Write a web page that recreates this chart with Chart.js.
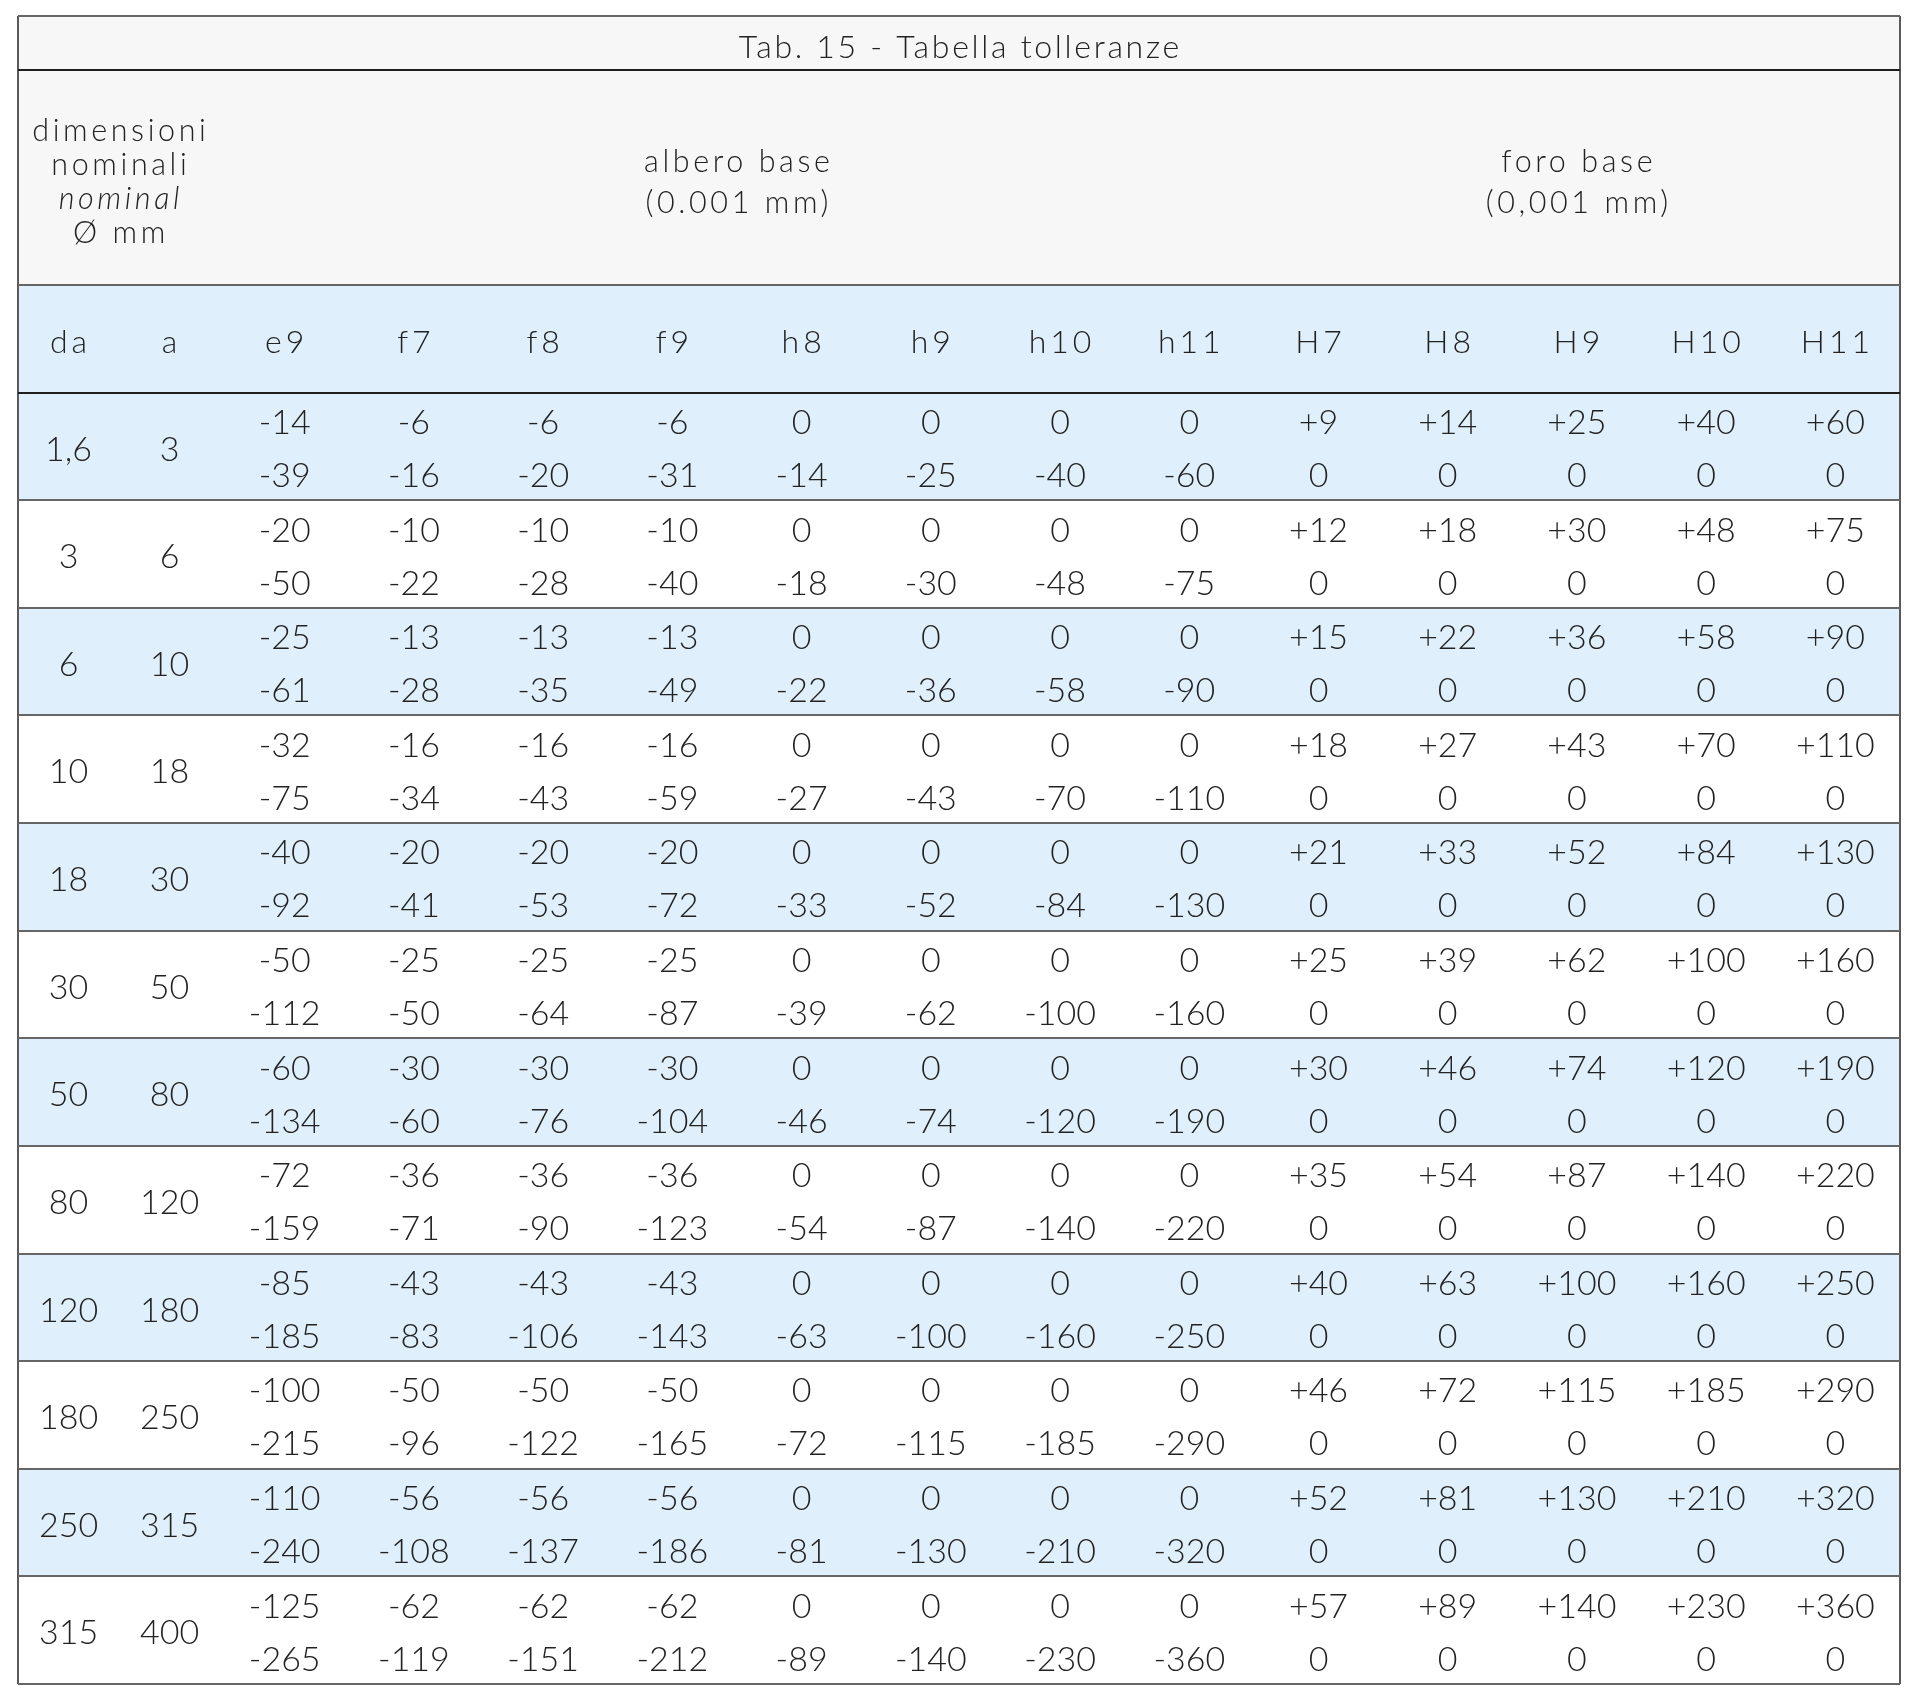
<!DOCTYPE html>
<html><head><meta charset="utf-8">
<script src="https://cdn.jsdelivr.net/npm/chart.js@4.4.1/dist/chart.umd.min.js"></script>
<style>html,body{margin:0;padding:0;background:#fff}#wrap{width:1920px;height:1704px;position:relative}</style>
</head><body><div id="wrap"><canvas id="c"></canvas></div>
<script>
// ---------- data ----------
const title = 'Tab. 15 - Tabella tolleranze';
const headerSizeLines = ['dimensioni', 'nominali', 'nominal', 'Ø mm'];
const headerShaftLines = ['albero base', '(0.001 mm)'];
const headerHoleLines = ['foro base', '(0,001 mm)'];
const colLabels = ['da', 'a', 'e9', 'f7', 'f8', 'f9', 'h8', 'h9', 'h10', 'h11', 'H7', 'H8', 'H9', 'H10', 'H11'];
const sizeFrom = ['1,6', '3', '6', '10', '18', '30', '50', '80', '120', '180', '250', '315'];
const sizeTo = ['3', '6', '10', '18', '30', '50', '80', '120', '180', '250', '315', '400'];
// columns: e9 f7 f8 f9 h8 h9 h10 h11 H7 H8 H9 H10 H11
const upperDeviation = [
  [-14, -6, -6, -6, 0, 0, 0, 0, 9, 14, 25, 40, 60],
  [-20, -10, -10, -10, 0, 0, 0, 0, 12, 18, 30, 48, 75],
  [-25, -13, -13, -13, 0, 0, 0, 0, 15, 22, 36, 58, 90],
  [-32, -16, -16, -16, 0, 0, 0, 0, 18, 27, 43, 70, 110],
  [-40, -20, -20, -20, 0, 0, 0, 0, 21, 33, 52, 84, 130],
  [-50, -25, -25, -25, 0, 0, 0, 0, 25, 39, 62, 100, 160],
  [-60, -30, -30, -30, 0, 0, 0, 0, 30, 46, 74, 120, 190],
  [-72, -36, -36, -36, 0, 0, 0, 0, 35, 54, 87, 140, 220],
  [-85, -43, -43, -43, 0, 0, 0, 0, 40, 63, 100, 160, 250],
  [-100, -50, -50, -50, 0, 0, 0, 0, 46, 72, 115, 185, 290],
  [-110, -56, -56, -56, 0, 0, 0, 0, 52, 81, 130, 210, 320],
  [-125, -62, -62, -62, 0, 0, 0, 0, 57, 89, 140, 230, 360]
];
const lowerDeviation = [
  [-39, -16, -20, -31, -14, -25, -40, -60, 0, 0, 0, 0, 0],
  [-50, -22, -28, -40, -18, -30, -48, -75, 0, 0, 0, 0, 0],
  [-61, -28, -35, -49, -22, -36, -58, -90, 0, 0, 0, 0, 0],
  [-75, -34, -43, -59, -27, -43, -70, -110, 0, 0, 0, 0, 0],
  [-92, -41, -53, -72, -33, -52, -84, -130, 0, 0, 0, 0, 0],
  [-112, -50, -64, -87, -39, -62, -100, -160, 0, 0, 0, 0, 0],
  [-134, -60, -76, -104, -46, -74, -120, -190, 0, 0, 0, 0, 0],
  [-159, -71, -90, -123, -54, -87, -140, -220, 0, 0, 0, 0, 0],
  [-185, -83, -106, -143, -63, -100, -160, -250, 0, 0, 0, 0, 0],
  [-215, -96, -122, -165, -72, -115, -185, -290, 0, 0, 0, 0, 0],
  [-240, -108, -137, -186, -81, -130, -210, -320, 0, 0, 0, 0, 0],
  [-265, -119, -151, -212, -89, -140, -230, -360, 0, 0, 0, 0, 0]
];

// ---------- layout (styles / geometry, not data) ----------
const colWidths = colLabels.map((c, i) => i < 2 ? 0.782 : 1);
const colStart = []; let acc = 0;
colWidths.forEach(w => { colStart.push(acc); acc += w; });
const totalW = acc;
const colCenter = i => colStart[i] + colWidths[i] / 2;
const spanCenter = (a, b) => (colStart[a] + colStart[b] + colWidths[b]) / 2;
const TITLE_H = 0.5, HEAD_H = 2, SUB_H = 1;
const dataTop = TITLE_H + HEAD_H + SUB_H;
const totalH = dataTop + sizeFrom.length;
const boundaries = [0, TITLE_H, TITLE_H + HEAD_H, dataTop];
sizeFrom.forEach((s, r) => boundaries.push(dataTop + r + 1));

const FONT = 'Lato';
const TXT = '#222222';
const fmt = v => v > 0 ? '+' + v : String(v);

// ---------- datasets (text cells as points) ----------
const titleData = [{ x: totalW / 2, y: 0.393, t: title }];
const headData = [];
headerSizeLines.forEach((t, i) => headData.push({ x: spanCenter(0, 1), y: 1.159 + i * 0.318, t, it: i === 2 }));
headerShaftLines.forEach((t, i) => headData.push({ x: spanCenter(2, 9), y: 1.447 + i * 0.387, t }));
headerHoleLines.forEach((t, i) => headData.push({ x: spanCenter(10, 14), y: 1.447 + i * 0.387, t }));
const subData = colLabels.map((t, i) => ({ x: colCenter(i), y: TITLE_H + HEAD_H + 0.635, t }));
const sizeData = [];
sizeFrom.forEach((s, r) => {
  sizeData.push({ x: colCenter(0), y: dataTop + r + 0.632, t: s });
  sizeData.push({ x: colCenter(1), y: dataTop + r + 0.632, t: sizeTo[r] });
});
const upperData = [], lowerData = [];
upperDeviation.forEach((row, r) => row.forEach((v, c) => upperData.push({ x: colCenter(c + 2), y: dataTop + r + 0.384, t: fmt(v) })));
lowerDeviation.forEach((row, r) => row.forEach((v, c) => lowerData.push({ x: colCenter(c + 2), y: dataTop + r + 0.876, t: fmt(v) })));

const mk = (label, data, size, spacing) => ({ label, data, pointRadius: 0, showLine: false, textSize: size, textSpacing: spacing || 0 });

const bgPlugin = {
  id: 'tableBg',
  beforeDraw(chart) {
    const { ctx, scales: { x, y } } = chart;
    const x0 = x.getPixelForValue(0), x1 = x.getPixelForValue(totalW);
    const band = (a, b, col) => {
      const ya = y.getPixelForValue(a), yb = y.getPixelForValue(b);
      ctx.fillStyle = col; ctx.fillRect(x0, ya, x1 - x0, yb - ya);
    };
    ctx.save();
    band(0, totalH, '#ffffff');
    band(0, TITLE_H + HEAD_H, '#f7f7f7');
    band(TITLE_H + HEAD_H, dataTop, '#dff0fc');
    sizeFrom.forEach((s, r) => { if (r % 2 === 0) band(dataTop + r, dataTop + r + 1, '#dff0fc'); });
    ctx.restore();
  }
};

const textPlugin = {
  id: 'tableText',
  afterDatasetsDraw(chart) {
    const ctx = chart.ctx;
    ctx.save();
    ctx.fillStyle = TXT;
    ctx.textAlign = 'center';
    ctx.textBaseline = 'alphabetic';
    const hasLS = 'letterSpacing' in ctx;
    chart.data.datasets.forEach((ds, di) => {
      const meta = chart.getDatasetMeta(di);
      meta.data.forEach((el, i) => {
        const d = ds.data[i];
        ctx.font = (d.it ? 'italic ' : '') + '300 ' + ds.textSize + 'px ' + FONT;
        if (hasLS) ctx.letterSpacing = ds.textSpacing + 'px';
        ctx.fillText(d.t, el.x + (hasLS ? ds.textSpacing / 2 : 0), el.y);
      });
    });
    ctx.restore();
  }
};

function build() {
  new Chart(document.getElementById('c'), {
    type: 'scatter',
    data: {
      datasets: [
        mk('title', titleData, 32, 2.7),
        mk('header', headData, 30.5, 3.6),
        mk('columns', subData, 32, 4),
        mk('sizes', sizeData, 34, 0),
        mk('upper', upperData, 34, 0),
        mk('lower', lowerData, 34, 0)
      ]
    },
    options: {
      responsive: true,
      maintainAspectRatio: false,
      animation: false,
      events: [],
      layout: { padding: { left: 18, top: 16, right: 20, bottom: 20 } },
      plugins: { legend: { display: false }, tooltip: { enabled: false } },
      scales: {
        x: {
          type: 'linear', min: 0, max: totalW,
          ticks: { display: false }, border: { display: false },
          grid: { drawTicks: false, color: '#5a5a5a', lineWidth: 2 },
          afterBuildTicks: s => { s.ticks = [{ value: 0 }, { value: totalW }]; }
        },
        y: {
          type: 'linear', min: 0, max: totalH, reverse: true,
          ticks: { display: false }, border: { display: false },
          grid: {
            drawTicks: false, lineWidth: 2,
            color: c => (c.tick && (c.tick.value === TITLE_H || c.tick.value === dataTop)) ? '#1e1e1e' : '#666666'
          },
          afterBuildTicks: s => { s.ticks = boundaries.map(v => ({ value: v })); }
        }
      }
    },
    plugins: [bgPlugin, textPlugin]
  });
}
const ready = document.fonts && document.fonts.load ? Promise.all([
  document.fonts.load('300 34px Lato'), document.fonts.load('italic 300 30px Lato')
]).catch(() => {}) : Promise.resolve();
ready.then(build);
</script></body></html>
